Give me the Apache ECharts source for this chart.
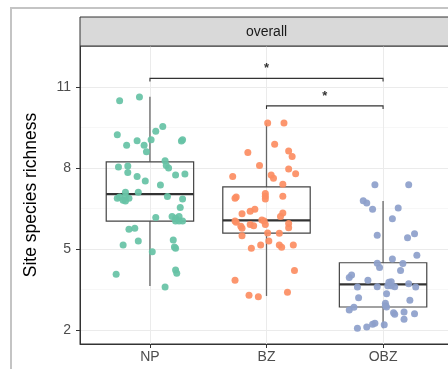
<!DOCTYPE html>
<html>
<head>
<meta charset="utf-8">
<script src="https://cdn.jsdelivr.net/npm/echarts@6/dist/echarts.min.js"></script>
<style>
html,body{margin:0;padding:0;background:#fff;}
#chart{width:448px;height:369px;}
</style>
</head>
<body>
<div id="chart"></div>
<script>
// ---- data ----
const categories = ['NP', 'BZ', 'OBZ'];
const yTicks = [2, 5, 8, 11];
const yMinorTicks = [3.5, 6.5, 9.5];
const panelTitle = 'overall';
const yTitle = 'Site species richness';

// box stats: [category position, lower whisker, Q1, median, Q3, upper whisker]
const boxNP  = [1, 3.63, 6.03, 7.03, 8.23, 10.64];
const boxBZ  = [2, 3.26, 5.59, 6.06, 7.30, 9.66];
const boxOBZ = [3, 2.06, 2.85, 3.69, 4.49, 6.78];

// jittered points: [x (category position + jitter), richness]
const pointsNP = [
  [0.74,10.49],[0.91,10.63],[1.11,9.54],[1.05,9.36],[0.72,9.23],[0.89,9.01],[0.80,8.84],[0.95,8.84],
  [1.01,9.05],[0.97,8.60],[1.27,9.00],[1.28,9.05],[1.13,8.27],[0.73,8.04],[0.81,8.07],[1.14,8.09],
  [1.16,8.00],[0.81,7.83],[0.89,7.69],[1.22,7.74],[1.30,7.78],[0.96,7.52],[1.09,7.37],[0.90,7.10],
  [0.79,7.10],[0.72,6.88],[0.77,6.81],[0.79,6.94],[0.82,6.88],[0.79,6.78],[0.74,6.93],[1.15,6.94],
  [1.28,6.85],[1.26,6.54],[1.05,6.17],[1.19,6.20],[1.22,6.14],[1.25,6.20],[1.22,6.04],[1.28,6.04],
  [1.25,6.04],[0.82,5.73],[0.87,5.77],[1.20,5.33],[0.77,5.15],[0.90,5.30],[1.22,5.03],[1.21,5.07],
  [1.02,4.90],[0.71,4.06],[1.22,4.22],[1.23,4.10],[1.13,3.59]
];
const pointsBZ = [
  [2.01,9.67],[2.15,9.67],[2.07,8.88],[1.84,8.57],[2.19,8.63],[2.22,8.43],[1.94,8.09],[2.19,7.96],
  [2.25,7.79],[1.71,7.69],[2.04,7.74],[2.06,7.62],[2.14,7.40],[1.99,7.06],[1.99,6.95],[1.99,6.85],
  [2.14,6.95],[1.73,6.88],[1.74,6.93],[1.90,6.47],[1.86,6.40],[1.79,6.31],[2.14,6.33],[2.12,6.20],
  [1.73,6.04],[1.74,5.99],[1.96,6.07],[1.98,6.04],[1.99,5.91],[1.86,5.91],[1.89,5.86],[1.78,5.84],
  [1.79,5.77],[2.19,5.94],[2.19,5.79],[2.01,5.59],[2.11,5.58],[1.79,5.49],[2.02,5.30],[1.95,5.15],
  [1.87,5.03],[2.11,5.15],[2.13,5.06],[2.23,5.15],[2.24,4.20],[1.73,3.84],[1.85,3.29],[1.93,3.23],
  [2.18,3.40]
];
const pointsOBZ = [
  [2.93,7.38],[3.22,7.38],[2.83,6.79],[2.86,6.70],[2.91,6.47],[3.13,6.52],[3.08,6.12],[2.95,5.51],
  [3.21,5.42],[3.27,5.56],[3.29,4.77],[3.08,4.63],[2.95,4.47],[3.17,4.46],[2.97,4.31],[3.15,4.20],
  [2.71,3.94],[2.73,4.04],[2.87,3.84],[2.78,3.59],[2.95,3.60],[3.05,3.77],[3.07,3.64],[3.10,3.60],
  [3.04,3.64],[3.07,3.79],[3.22,3.71],[3.28,3.59],[2.79,3.19],[3.03,3.34],[3.23,3.10],[3.02,2.99],
  [3.02,2.90],[3.03,2.85],[2.71,2.74],[2.75,2.84],[3.09,2.64],[3.10,2.58],[3.18,2.67],[3.27,2.60],
  [3.18,2.40],[2.78,2.06],[2.86,2.11],[2.91,2.21],[2.93,2.25],[3.01,2.19]
];

// significance brackets: [from category, to category, bracket height, label]
const sigFrom   = [1, 2];
const sigTo     = [3, 3];
const sigY      = [11.32, 10.30];
const sigLabels = ['*', '*'];

// ---- layout / style ----
const G = {left: 80, top: 46, right: -5, bottom: 25};
const stripTop = 17;
const colors = ['#66C2A5', '#FC8D62', '#8DA0CB'];
const FONT = 'Liberation Sans, Arial, sans-serif';

const chart = echarts.init(document.getElementById('chart'), null, {renderer: 'canvas'});

function boxRender(params, api) {
  const x = api.value(0);
  const half = api.size([0.375, 0])[0];
  const pLo = api.coord([x, api.value(1)]);
  const pQ1 = api.coord([x, api.value(2)]);
  const pMed = api.coord([x, api.value(3)]);
  const pQ3 = api.coord([x, api.value(4)]);
  const pHi = api.coord([x, api.value(5)]);
  const cx = pMed[0];
  return {
    type: 'group',
    children: [
      {type: 'line', shape: {x1: cx, y1: pQ3[1], x2: cx, y2: pHi[1]}, style: {stroke: '#666', lineWidth: 1.3}},
      {type: 'line', shape: {x1: cx, y1: pQ1[1], x2: cx, y2: pLo[1]}, style: {stroke: '#666', lineWidth: 1.3}},
      {type: 'rect', shape: {x: cx - half, y: pQ3[1], width: 2 * half, height: pQ1[1] - pQ3[1]},
        style: {fill: 'rgba(255,255,255,0)', stroke: '#444', lineWidth: 1.2}},
      {type: 'line', shape: {x1: cx - half, y1: pMed[1], x2: cx + half, y2: pMed[1]}, style: {stroke: '#333', lineWidth: 2.2}}
    ]
  };
}

function sigRender(params, api) {
  const a = api.coord([api.value(0), api.value(2)]);
  const b = api.coord([api.value(1), api.value(2)]);
  const tip = 3;
  const label = sigLabels[params.dataIndex];
  return {
    type: 'group',
    children: [
      {type: 'polyline', shape: {points: [[a[0], a[1] + tip], [a[0], a[1]], [b[0], b[1]], [b[0], b[1] + tip]]},
        style: {stroke: '#333', lineWidth: 1.1, fill: null}},
      {type: 'text', style: {x: (a[0] + b[0]) / 2, y: a[1] - 3, text: label, fill: '#333',
        font: 'bold 13px ' + FONT, textAlign: 'center', textVerticalAlign: 'bottom'}}
    ]
  };
}

const sigData = sigFrom.map((f, i) => [f, sigTo[i], sigY[i]]);
const panelW = 448 - G.left - G.right;

const option = {
  backgroundColor: '#fff',
  animation: false,
  grid: {left: G.left, top: G.top, right: G.right, bottom: G.bottom, show: true,
    outerBoundsMode: 'none',
    backgroundColor: '#fff', borderColor: '#333', borderWidth: 1, containLabel: false},
  xAxis: {
    type: 'value', min: 0.4, max: 3.6,
    axisLine: {show: true, onZero: false, lineStyle: {color: '#333', width: 1}},
    axisTick: {show: true, length: 4, lineStyle: {color: '#333'}, customValues: [1, 2, 3]},
    axisLabel: {show: true, customValues: [1, 2, 3], margin: 6, color: '#4D4D4D', fontSize: 14, fontFamily: FONT,
      formatter: v => categories[Math.round(v) - 1] || ''},
    splitLine: {show: true, lineStyle: {color: '#EBEBEB', width: 1}}
  },
  yAxis: [{
    type: 'value', min: 1.48, max: 12.52,
    name: yTitle, nameLocation: 'middle', nameGap: 40,
    nameTextStyle: {color: '#000', fontSize: 17.5, fontFamily: FONT},
    axisLine: {show: true, lineStyle: {color: '#333', width: 1}},
    axisTick: {show: true, length: 4, lineStyle: {color: '#333'}, customValues: yTicks},
    axisLabel: {show: true, customValues: yTicks, margin: 9, color: '#4D4D4D', fontSize: 14, fontFamily: FONT},
    splitLine: {show: true, lineStyle: {color: '#EBEBEB', width: 1}}
  }, {
    type: 'value', min: 1.48, max: 12.52, position: 'left',
    axisLine: {show: false}, axisLabel: {show: false},
    axisTick: {show: false, customValues: yMinorTicks},
    splitLine: {show: true, lineStyle: {color: '#F3F3F3', width: 0.7}}
  }],
  graphic: [
    {type: 'rect', z: 100, shape: {x: 11, y: 8, width: 480, height: 400},
      style: {fill: null, stroke: '#C4C4C4', lineWidth: 2}},
    {type: 'rect', z: 100, shape: {x: G.left, y: stripTop, width: panelW, height: G.top - stripTop},
      style: {fill: '#D9D9D9', stroke: '#333', lineWidth: 1}},
    {type: 'text', z: 101, style: {x: G.left + panelW / 2, y: (stripTop + G.top) / 2 + 0.5, text: panelTitle,
      fill: '#1A1A1A', font: '14px ' + FONT, textAlign: 'center', textVerticalAlign: 'middle'}}
  ],
  series: [
    {type: 'custom', name: 'box', renderItem: boxRender, z: 2,
      encode: {x: 0, y: [1, 2, 3, 4, 5]}, data: [boxNP, boxBZ, boxOBZ]},
    {type: 'scatter', name: categories[0], data: pointsNP, symbolSize: 7, z: 3,
      itemStyle: {color: colors[0], opacity: 0.92}},
    {type: 'scatter', name: categories[1], data: pointsBZ, symbolSize: 7, z: 3,
      itemStyle: {color: colors[1], opacity: 0.92}},
    {type: 'scatter', name: categories[2], data: pointsOBZ, symbolSize: 7, z: 3,
      itemStyle: {color: colors[2], opacity: 0.92}},
    {type: 'custom', name: 'signif', renderItem: sigRender, z: 4, clip: false,
      encode: {x: [0, 1], y: 2}, data: sigData}
  ]
};
chart.setOption(option);
</script>
</body>
</html>
